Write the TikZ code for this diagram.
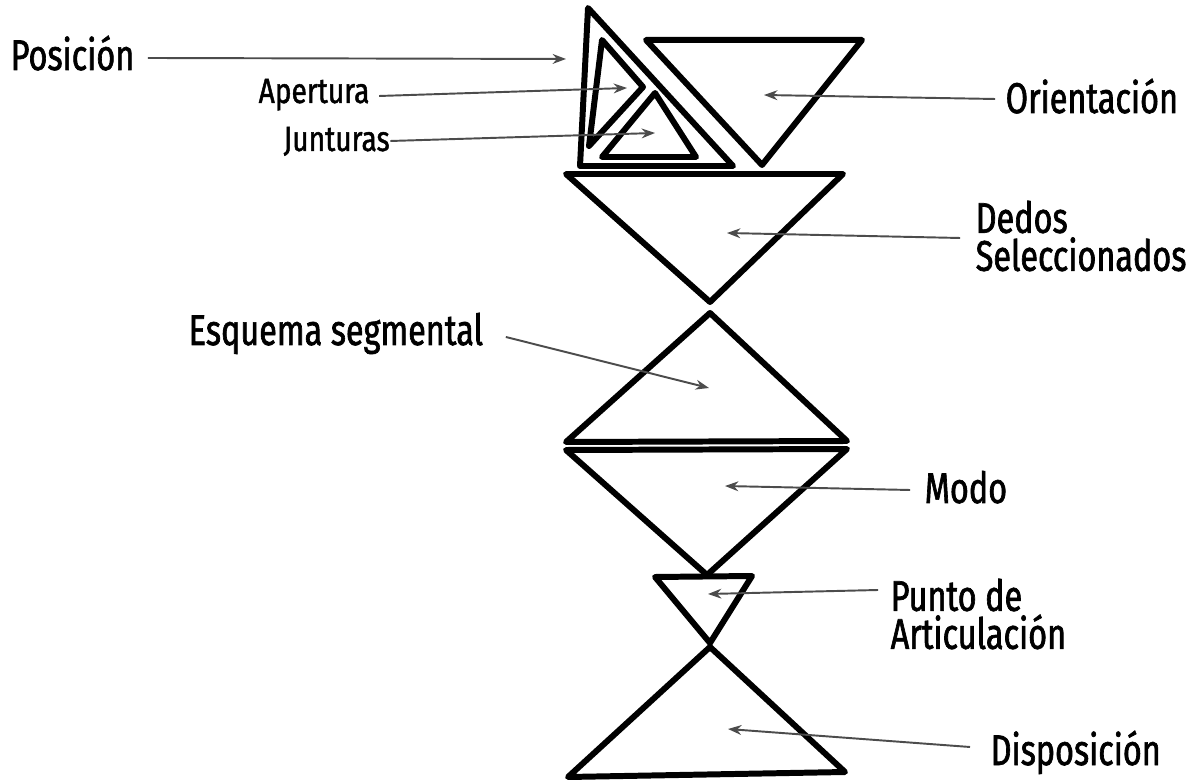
\documentclass[tikz,border=0pt]{standalone}
\usepackage{fontspec}
\newfontfamily\lab{Fira Sans}[FakeStretch=0.755,FakeBold=1.5]
\newfontfamily\labs{Fira Sans}[FakeStretch=0.8,FakeBold=1.3]
\usetikzlibrary{arrows.meta}
\begin{document}
\begin{tikzpicture}[x=0.01cm,y=-0.01cm,
  tri/.style={draw=black,line width=1.7pt,line join=round},
  arr/.style={draw=black!70,line width=0.55pt,-{Stealth[length=3.8pt,width=2.8pt]}},
  big/.style={font={\lab\fontsize{12.2}{10.8}\selectfont},inner sep=0pt,align=left},
  small/.style={font={\labs\fontsize{10}{11}\selectfont},inner sep=0pt}]
\useasboundingbox[fill=white] (0,0) rectangle (1189,783);
% triangles
\draw[tri] (588,8) -- (580,166) -- (733,166) -- cycle;
\draw[tri] (602,40) -- (589,146) -- (643,87) -- cycle;
\draw[tri] (655,93) -- (602,157) -- (696,157) -- cycle;
\draw[tri] (646,40) -- (862,40) -- (762,165) -- cycle;
\draw[tri] (566,174) -- (843,174) -- (710,302) -- cycle;
\draw[tri] (710,313) -- (566,442) -- (847,441) -- cycle;
\draw[tri] (566,450) -- (847,449) -- (707,575) -- cycle;
\draw[tri] (655,577) -- (752,576) -- (710,643) -- cycle;
\draw[tri] (710,647) -- (568,777) -- (845,772) -- cycle;
% labels
\node[big,anchor=base west] (pos) at (10,70) {Posición};
\node[small,anchor=base west] (ape) at (258,103) {Apertura};
\node[small,anchor=base west] (jun) at (283,151) {Junturas};
\node[big,anchor=base west] (ori) at (1005,113) {Orientación};
\node[big,anchor=west] (ded) at (975,236) {Dedos\\Seleccionados};
\node[big,anchor=base west] (esq) at (188,345) {Esquema segmental};
\node[big,anchor=base west] (mod) at (924,503) {Modo};
\node[big,anchor=west] (pun) at (890,614) {Punto de\\Articulación};
\node[big,anchor=base west] (dis) at (990,765) {Disposición};
% arrow targets
\coordinate (posT) at (566,59);
\coordinate (apeT) at (627,88);
\coordinate (junT) at (655,133);
\coordinate (oriT) at (764,95);
\coordinate (dedT) at (727,233);
\coordinate (esqT) at (709,388);
\coordinate (modT) at (725,486);
\coordinate (punT) at (708,594);
\coordinate (disT) at (728,729);
% connectors
\draw[arr] ([shift={(13,-12)}]pos.base east) -- (posT);
\draw[arr] ([shift={(9,-7)}]ape.base east) -- (apeT);
\draw[arr] ([shift={(0,-10)}]jun.base east) -- (junT);
\draw[arr] ([shift={(-10,-14)}]ori.base west) -- (oriT);
\draw[arr] ([shift={(-15,2)}]ded.west) -- (dedT);
\draw[arr] ([shift={(22,-8)}]esq.base east) -- (esqT);
\draw[arr] ([shift={(-14,-13)}]mod.base west) -- (modT);
\draw[arr] ([shift={(-12,-24)}]pun.west) -- (punT);
\draw[arr] ([shift={(-20,-18)}]dis.base west) -- (disT);
\end{tikzpicture}
\end{document}
